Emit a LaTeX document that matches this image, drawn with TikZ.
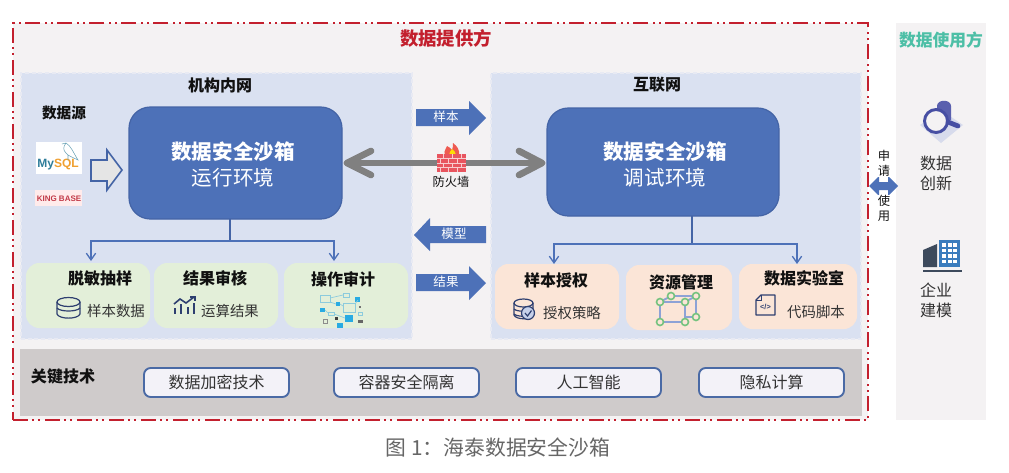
\documentclass[tikz,border=0pt]{standalone}
\usepackage{fontspec}
\setmainfont{Noto Sans CJK SC}
\newfontfamily\latinf{Liberation Sans}
\usetikzlibrary{arrows.meta,calc}
\definecolor{redline}{HTML}{C3202E}
\definecolor{panelbg}{HTML}{F4F2F3}
\definecolor{netbg}{HTML}{DAE1F1}
\definecolor{netedge}{HTML}{E8EAF3}
\definecolor{sandfill}{HTML}{4D71B8}
\definecolor{sandedge}{HTML}{4464A6}
\definecolor{greencard}{HTML}{E3EFD9}
\definecolor{orangecard}{HTML}{FBE5D7}
\definecolor{techbg}{HTML}{CFCBCB}
\definecolor{techfill}{HTML}{F3F2F8}
\definecolor{techedge}{HTML}{4A6AA5}
\definecolor{inkdark}{HTML}{111111}
\definecolor{inkgray}{HTML}{333333}
\definecolor{iconnavy}{HTML}{2E3F70}
\definecolor{netblue}{HTML}{29ABE2}
\definecolor{netpale}{HTML}{8CCBDD}
\definecolor{teal}{HTML}{4DBFA6}
\definecolor{brick}{HTML}{E8555F}
\definecolor{flame}{HTML}{EE5A50}
\definecolor{cubegreen}{HTML}{74C27E}
\definecolor{cubeblue}{HTML}{8DA2D6}
\definecolor{lensblue}{HTML}{474FA3}
\definecolor{stackblue}{HTML}{5A60AE}
\definecolor{basepale}{HTML}{D7DBEC}
\definecolor{bldark}{HTML}{3D4A5C}
\definecolor{blblue}{HTML}{3A7CBD}
\definecolor{mysqlblue}{HTML}{2E7D9A}
\definecolor{mysqlorange}{HTML}{F0A030}
\definecolor{kingred}{HTML}{C23A48}
\newcommand{\rnode}[6]{\node[#2,anchor=north west,inner sep=0pt,outer sep=0pt,minimum width={(#5-#3)*0.75pt},minimum height={(#6-#4)*0.75pt}] (#1) at (#3,#4) {};}
\tikzset{
  outerframe/.style={draw=redline,fill=panelbg,line width=1.5pt,dash pattern=on 11pt off 3.5pt on 1.5pt off 3pt on 1.5pt off 3.5pt},
  userpanel/.style={fill=panelbg},
  netpanel/.style={fill=netbg,draw=netedge,line width=1.2pt,dash pattern=on 3pt off 2pt},
  sandbox/.style={fill=sandfill,draw=sandedge,line width=0.9pt,rounded corners=16pt},
  gcard/.style={fill=greencard,rounded corners=10pt},
  ocard/.style={fill=orangecard,rounded corners=10pt},
  techband/.style={fill=techbg},
  techbtn/.style={fill=techfill,draw=techedge,line width=1.4pt,rounded corners=5pt},
  sandtitle/.style={text=white,font=\bfseries\fontsize{15.4pt}{17pt}\selectfont,inner sep=0pt},
  sandsub/.style={text=white,font=\fontsize{15.4pt}{17pt}\selectfont,inner sep=0pt},
  sectitle/.style={text=inkdark,font=\bfseries\fontsize{12pt}{14pt}\selectfont,inner sep=0pt},
  sublabel/.style={text=inkgray,font=\fontsize{10.8pt}{13pt}\selectfont,inner sep=0pt},
  techlabel/.style={text=inkgray,font=\fontsize{12pt}{14pt}\selectfont,inner sep=0pt},
  userlabel/.style={text=inkgray,font=\fontsize{12pt}{14pt}\selectfont,inner sep=0pt},
  arrowlabel/.style={text=white,font=\fontsize{9.4pt}{11pt}\selectfont,inner sep=0pt},
  smalllabel/.style={text=inkdark,font=\fontsize{9.2pt}{11pt}\selectfont,inner sep=0pt},
  vlabel/.style={text=inkdark,font=\fontsize{9.2pt}{11pt}\selectfont,inner sep=0.5pt,fill=white},
  blockarrow/.style={fill=sandfill},
  branch/.style={draw=sandfill,line width=1pt,-{Straight Barb[length=5pt,width=7pt,line width=1pt]}},
  trunk/.style={draw=sandedge,line width=1pt},
  graybar/.style={draw=black!50,line width=5pt,line cap=round,line join=round},
  iconline/.style={draw=iconnavy,line width=0.9pt},
}
\begin{document}
\begin{tikzpicture}[x=0.75pt,y=-0.75pt]
\useasboundingbox (0,0) rectangle (1009,472);
% frames
\rnode{outer}{outerframe}{13}{23}{868}{420}
\rnode{user}{userpanel}{896}{23}{986}{420}
\rnode{lnet}{netpanel}{21}{73}{412}{339}
\rnode{rnet}{netpanel}{491}{73}{861}{339}
\rnode{tech}{techband}{20}{349}{862}{416}
% headings
\node[text=redline,font=\bfseries\fontsize{13.8pt}{16pt}\selectfont,inner sep=0pt] (ttl) at (446,38) {数据提供方};
\node[text=teal,font=\bfseries\fontsize{12.6pt}{15pt}\selectfont,inner sep=0pt] (ttu) at (941,40) {数据使用方};
\node[sectitle] (tl) at (220,85) {机构内网};
\node[sectitle] (tr) at (657,85) {互联网};
\node[sectitle,font=\bfseries\fontsize{11pt}{13pt}\selectfont] (tsrc) at (64,113) {数据源};
% sandboxes
\rnode{lsb}{sandbox}{129}{107}{342}{219}
\rnode{rsb}{sandbox}{547}{108}{779}{216}
\node[sandtitle] (lsb1) at (233,152) {数据安全沙箱};
\node[sandsub] (lsb2) at (233,178) {运行环境};
\node[sandtitle] (rsb1) at (665,152) {数据安全沙箱};
\node[sandsub] (rsb2) at (665,178) {调试环境};
% cards
\rnode{c1}{gcard}{26}{263}{150}{328}
\rnode{c2}{gcard}{154}{263}{278}{328}
\rnode{c3}{gcard}{284}{263}{408}{328}
\rnode{d1}{ocard}{495}{264}{619}{329}
\rnode{d2}{ocard}{626}{265}{732}{330}
\rnode{d3}{ocard}{739}{264}{857}{329}
\node[sectitle] (c1t) at (100,278) {脱敏抽样};
\node[sectitle] (c2t) at (215,278) {结果审核};
\node[sectitle] (c3t) at (343,279) {操作审计};
\node[sectitle] (d1t) at (556,280) {样本授权};
\node[sectitle] (d2t) at (681,282) {资源管理};
\node[sectitle] (d3t) at (804,278) {数据实验室};
\node[sublabel] (c1s) at (116,311) {样本数据};
\node[sublabel] (c2s) at (230,311) {运算结果};
\node[sublabel] (d1s) at (572,313) {授权策略};
\node[sublabel] (d3s) at (816,312) {代码脚本};
% branch connectors
\coordinate (ltop) at (230,219);
\coordinate (lmid) at (230,241);
\coordinate (la) at (91,261);
\coordinate (lb) at (334,261);
\draw[trunk] (ltop) -- (lmid);
\draw[branch] (lmid) -| (la);
\draw[branch] (lmid) -| (lb);
\coordinate (rtop) at (692,216);
\coordinate (rmid) at (692,244);
\coordinate (ra) at (554,264);
\coordinate (rb) at (797,264);
\draw[trunk] (rtop) -- (rmid);
\draw[branch] (rmid) -| (ra);
\draw[branch] (rmid) -| (rb);
% gray double arrow
\coordinate (gl) at (347,163);
\coordinate (gr) at (542,163);
\draw[graybar] (gl) -- (gr);
\draw[graybar] (371,151) -- (gl) -- (371,175);
\draw[graybar] (519,151) -- (gr) -- (519,175);
% firewall
\fill[flame] (445,155) .. controls (443,150) and (447,149) .. (447,146) .. controls (450,147) and (451,149) .. (452,150) .. controls (453,148) and (453,145) .. (453,143) .. controls (457,146) and (460,150) .. (459,155) -- cycle;
\fill[yellow!80!orange] (449,155) .. controls (449,152) and (451,151) .. (452,149) .. controls (454,151) and (456,152) .. (456,155) -- cycle;
\fill[brick] (437,154) rectangle (466,172);
\foreach \yy in {158.5,163,167.5} \draw[white!70!brick,line width=0.35pt] (437,\yy) -- (466,\yy);
\foreach \xx in {443,452,461} {\draw[white!70!brick,line width=0.35pt] (\xx,154) -- (\xx,158.5); \draw[white!70!brick,line width=0.35pt] (\xx,163) -- (\xx,167.5);}
\foreach \xx in {440,448,457} {\draw[white!70!brick,line width=0.35pt] (\xx,158.5) -- (\xx,163); \draw[white!70!brick,line width=0.35pt] (\xx,167.5) -- (\xx,172);}
\node[smalllabel] (fw) at (451,182) {防火墙};
% block arrows
\fill[blockarrow] (416,109) -- (469,109) -- (469,101) -- (486,118) -- (469,135) -- (469,126) -- (416,126) -- cycle;
\node[arrowlabel] (a1) at (446,117) {样本};
\fill[blockarrow] (486,226) -- (430,226) -- (430,218) -- (414,235) -- (430,251) -- (430,243) -- (486,243) -- cycle;
\node[arrowlabel] (a2) at (454,234) {模型};
\fill[blockarrow] (416,274) -- (469,274) -- (469,266) -- (486,283) -- (469,300) -- (469,291) -- (416,291) -- cycle;
\node[arrowlabel] (a3) at (446,282) {结果};
% hollow source arrow
\draw[fill=black!10,draw=sandedge,line width=1.2pt,line join=miter] (91,160) -- (107,160) -- (107,150) -- (122,170) -- (107,190) -- (107,181) -- (91,181) -- cycle;
% MySQL logo
\rnode{my}{fill=white}{36}{142}{82}{174}
\node[inner sep=0pt,font=\latinf\bfseries\fontsize{9pt}{10pt}\selectfont] (myt) at (58,165) {\textcolor{mysqlblue}{My}\textcolor{mysqlorange}{SQL}};
\draw[draw=mysqlblue!70,line width=0.4pt] (62,144) -- (66,143) .. controls (71,146) and (73,152) .. (78,160) .. controls (74,158) and (71,157) .. (68,155) (66,143) .. controls (63,147) and (63,150) .. (66,153) -- (68,155) (68,155) -- (68,160);
\rnode{kb}{fill=white!92!red}{35}{190}{82}{206}
\node[inner sep=0pt,text=kingred,font=\latinf\bfseries\fontsize{6pt}{8pt}\selectfont] (kbt) at (59,198.5) {KING BASE};
% db icon
\draw[iconline,fill=greencard] (57,302) -- (57,314) .. controls (59,319.5) and (78,319.5) .. (80,314) -- (80,302);
\draw[iconline] (57,308) .. controls (60,312) and (77,312) .. (80,308);
\draw[iconline] (68.5,302) ellipse [x radius=11.5,y radius=4.5];
% chart icon
\draw[draw=iconnavy,line width=1.2pt] (174,304) -- (180,299) -- (186,303) -- (194,297);
\draw[draw=iconnavy,line width=0.9pt] (190,297) -- (195,297) -- (195,301);
\foreach \xx/\yy in {175/308,181/304,188/307,194/303} \draw[draw=iconnavy,line width=1.9pt] (\xx,\yy) -- (\xx,314);
% network icon
\foreach \a/\b/\c/\d in {320/295/330/302,343/293/349/297,343/303/355/312,328/312/334/315} \draw[netpale,line width=0.7pt] (\a,\b) rectangle (\c,\d);
\foreach \a/\b/\c/\d in {336/302/340/306,355/297/360/302,320/308/325/312,345/315/353/322,337/323/343/328} \fill[netblue] (\a,\b) rectangle (\c,\d);
\draw[netpale,line width=0.5pt] (330,298) -- (343,295) (340,304) -- (343,306) (325,310) -- (328,313) (334,314) -- (345,318) (330,302) -- (336,304) (355,304) -- (358,300);
\fill[black!60] (358,320) rectangle (363,323);
\draw[black!45,line width=0.5pt] (323,319) rectangle (327,323);
\fill[black!75] (335,317) rectangle (338,320);
\fill[black!55] (359,306) rectangle (361,308);
\draw[netpale,line width=0.5pt] (358,312) rectangle (362,315);
% db-check icon
\draw[iconline,fill=orangecard] (514,303) -- (514,315) .. controls (516,320) and (531,320) .. (533,315) -- (533,303);
\draw[iconline] (523.5,303) ellipse [x radius=9.5,y radius=4];
\draw[iconline] (514,309) .. controls (517,312) and (530,312) .. (533,309);
\draw[iconline] (514,314) .. controls (517,317) and (530,317) .. (533,314);
\draw[iconline,fill=cubeblue!50] (528,313) circle [radius=6.5];
\draw[draw=iconnavy,line width=0.9pt] (525,313) -- (527.5,316) -- (531.5,310.5);
% cube icon
\draw[cubeblue,line width=1.4pt] (671,296) -- (696,296) -- (696,317) -- (685,317);
\draw[cubeblue,line width=1.4pt] (660,302) rectangle (685,322);
\draw[cubeblue,line width=1.4pt] (660,302) -- (671,296) (685,302) -- (696,296);
\foreach \xx/\yy in {660/302,685/302,660/322,685/322,671/296,696/296,696/317}
  \draw[cubegreen,fill=orangecard,line width=1.2pt] (\xx,\yy) circle [radius=3.5];
% file icon
\draw[draw=iconnavy,line width=1pt,line join=round] (761,295) -- (775,295) -- (775,315) -- (756,315) -- (756,300) -- cycle;
\draw[draw=iconnavy,line width=0.6pt] (756,300) -- (761,300) -- (761,295);
\node[inner sep=0pt,text=iconnavy,font=\latinf\bfseries\fontsize{5.5pt}{6pt}\selectfont] (fc) at (765.5,307) {</>};
% search icon
\fill[basepale] (920,125) -- (941,110) -- (963,125) -- (941,143) -- cycle;
\fill[stackblue] (937,106) .. controls (937,99) and (951,99) .. (951,106) -- (951,120) -- (937,120) -- cycle;
\draw[draw=lensblue,line width=2.2pt,fill=panelbg] (936,121) circle [radius=11.5];
\draw[draw=lensblue,line width=3.6pt,line cap=round] (948,122) -- (958,126);
% building icon
\fill[bldark] (923,250) -- (937,244) -- (937,267) -- (923,267) -- cycle;
\fill[blblue] (939,240) rectangle (960,267);
\foreach \yy in {243,248.5,254,259.5} \foreach \xx in {942,947.5,953} \fill[white] (\xx,\yy) rectangle (\xx+4,\yy+3.8);
\draw[draw=bldark,line width=1.5pt] (923,271) -- (962,271);
% user labels
\node[userlabel] (u1) at (936,163) {数据};
\node[userlabel] (u2) at (936,183) {创新};
\node[userlabel] (u3) at (936,290) {企业};
\node[userlabel] (u4) at (936,310) {建模};
% apply arrow
\fill[sandfill] (869,186) -- (879,176) -- (879,182) -- (888,182) -- (888,176) -- (898,186) -- (888,196) -- (888,190) -- (879,190) -- (879,196) -- cycle;
\node[vlabel,fill=none] (v1) at (884,156) {申};
\node[vlabel] (v2) at (884,171) {请};
\node[vlabel] (v3) at (884,201) {使};
\node[vlabel,fill=none] (v4) at (884,216) {用};
% technologies
\node[sectitle] (kt) at (63,376) {关键技术};
\rnode{b1}{techbtn}{144}{368}{289}{397}
\rnode{b2}{techbtn}{334}{368}{479}{397}
\rnode{b3}{techbtn}{516}{368}{661}{397}
\rnode{b4}{techbtn}{699}{368}{844}{397}
\node[techlabel] (b1t) at (b1) {数据加密技术};
\node[techlabel] (b2t) at (b2) {容器安全隔离};
\node[techlabel] (b3t) at (b3) {人工智能};
\node[techlabel] (b4t) at (b4) {隐私计算};
% caption
\node[inner sep=0pt,text=black!60,font=\fontsize{15.6pt}{18pt}\selectfont] (cap) at (498,448) {图 1：海泰数据安全沙箱};
\end{tikzpicture}
\end{document}
